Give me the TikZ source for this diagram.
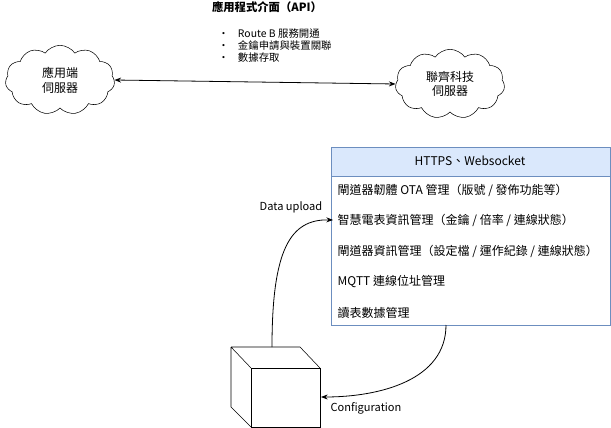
\documentclass[tikz,border=0pt]{standalone}
\usepackage{fontspec}
\setmainfont{Noto Sans CJK TC}
\usetikzlibrary{shapes.symbols,arrows.meta}
\definecolor{hdrblue}{HTML}{DAE8FC}
\definecolor{hdrline}{HTML}{6C8EBF}
\begin{document}
\begin{tikzpicture}[x=0.75pt,y=-0.75pt,font=\fontsize{8.3}{10}\selectfont,
    server/.style={cloud, cloud puffs=11, cloud puff arc=110, aspect=1.8, draw, minimum width=82pt, minimum height=52pt, align=center, font=\fontsize{9}{11}\selectfont},
    item/.style={anchor=west, font=\fontsize{9}{10}\selectfont},
    link/.style={-{Stealth[length=5pt]}, semithick}]
    \useasboundingbox (0,0) rectangle (611,428);

    % Servers
    \node[server] (app) at (60,80) {應用端\\伺服器};
    \node[server] (lianyu) at (450,84) {聯齊科技\\伺服器};
    \draw[link, {Stealth[length=5pt]}-{Stealth[length=5pt]}] (app.east) -- (lianyu.west);

    % API label
    \node[font=\bfseries\fontsize{8.5}{10}\selectfont] (api) at (267,7) {應用程式介面（API）};
    \node[anchor=north west, inner sep=0pt, align=left, font=\fontsize{7.8}{9}\selectfont] (apilist) at (218,28)
        {\textperiodcentered\hspace{7pt}Route B 服務開通\\
         \textperiodcentered\hspace{7pt}金鑰申請與裝置關聯\\
         \textperiodcentered\hspace{7pt}數據存取};

    % Platform box
    \draw[fill=hdrblue, draw=hdrline] (331,147) rectangle (610,176);
    \draw[draw=hdrline] (331,176) rectangle (610,325);
    \coordinate (boxbot) at (446,325);
    \node[font=\fontsize{9}{10}\selectfont] (hdr) at (470,161) {HTTPS、Websocket};
    \node[item] (r1) at (333,190) {閘道器韌體 OTA 管理（版號 / 發佈功能等）};
    \node[item] (r2) at (333,220) {智慧電表資訊管理（金鑰 / 倍率 / 連線狀態）};
    \node[item] (r3) at (333,251) {閘道器資訊管理（設定檔 / 運作紀錄 / 連線狀態）};
    \node[item] (r4) at (333,282) {MQTT 連線位址管理};
    \node[item] (r5) at (333,313) {讀表數據管理};

    % Meter device
    \draw (231,347) -- (300,347) -- (320,368) (231,347) -- (231,407) -- (251,427) (231,347) -- (251,368);
    \draw[fill=white] (251,368) rectangle (320,427);
    \coordinate (devtop) at (272,347);
    \coordinate (devside) at (321,397);

    % Connectors
    \draw[link] (devtop) .. controls (272,250) and (290,219) .. (r2.west);
    \node (up) at (291,207) {Data upload};
    \draw[link] (boxbot) .. controls (446,380) and (380,397) .. (devside);
    \node (cfg) at (366,408) {Configuration};
\end{tikzpicture}
\end{document}
